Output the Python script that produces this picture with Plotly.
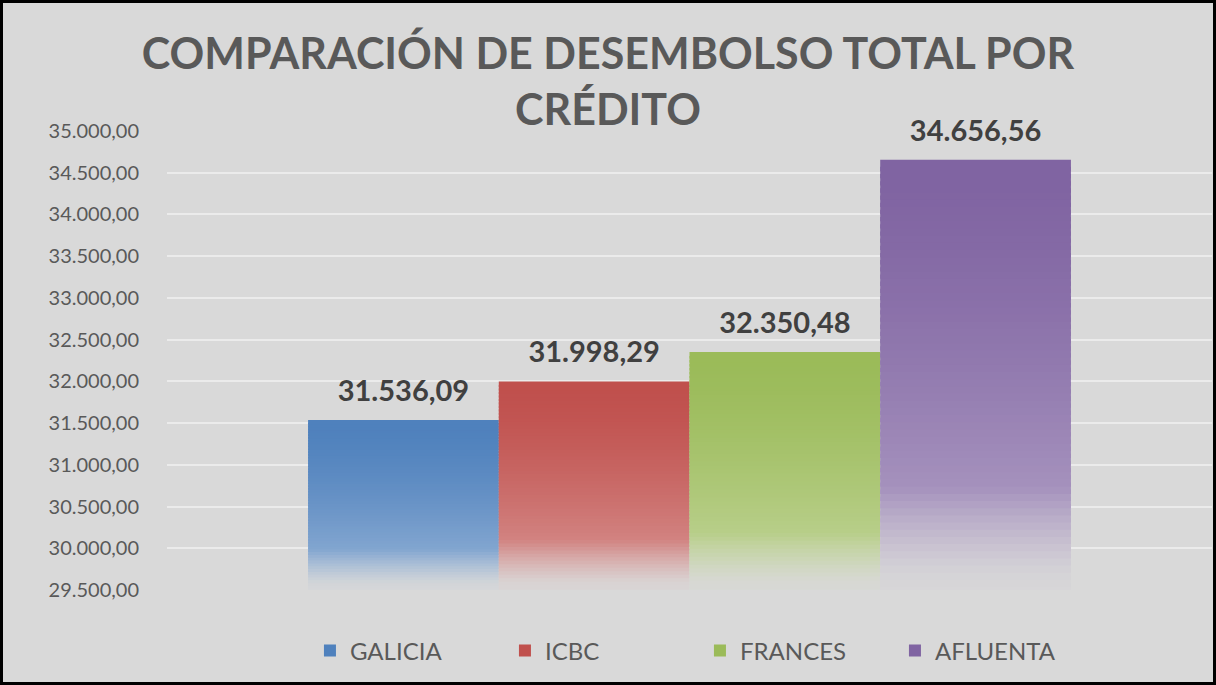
import plotly.graph_objects as go

# Data
bancos = ["GALICIA", "ICBC", "FRANCES", "AFLUENTA"]
desembolso = [31536.09, 31998.29, 32350.48, 34656.56]
colores = ["#4f81bd", "#c0504d", "#9bbb59", "#8064a2"]
y_ticks = [29500, 30000, 30500, 31000, 31500, 32000, 32500, 33000, 33500, 34000, 34500, 35000]

BASE = 29500
FONDO = (217, 217, 217)
N_SEG = 60
PAD = 120  # invisible spacer so the label sits a bit higher above the bar


def hex_rgb(h):
    h = h.lstrip("#")
    return tuple(int(h[i:i + 2], 16) for i in (0, 2, 4))


def gradiente(color, t):
    # t = 0 at top of bar, 1 at bottom; lighten then fade into background
    r, g, b = hex_rgb(color)
    l = 0.45 * t ** 1.5
    r, g, b = r + (255 - r) * l, g + (255 - g) * l, b + (255 - b) * l
    if t < 0.75:
        a = 1.0
    elif t < 0.95:
        a = 1.0 - (t - 0.75) / 0.2 * 0.9
    else:
        a = 0.1 - (t - 0.95) / 0.05 * 0.05
    r = r * a + FONDO[0] * (1 - a)
    g = g * a + FONDO[1] * (1 - a)
    b = b * a + FONDO[2] * (1 - a)
    return f"rgb({int(r)},{int(g)},{int(b)})"


def fmt_es(v):
    s = f"{v:,.2f}"
    return s.replace(",", "X").replace(".", ",").replace("X", ".")


fig = go.Figure()

for i, (nombre, valor, color) in enumerate(zip(bancos, desembolso, colores)):
    # legend entry only
    fig.add_trace(go.Bar(
        x=[""], y=[None], name=nombre, offsetgroup=str(i), legendgroup=nombre,
        marker=dict(color=color, line=dict(width=0)),
    ))
    # bar drawn as stacked gradient segments (bottom to top)
    alto = (valor - BASE) / N_SEG
    solape = alto * 0.6
    bases, alturas, cols, textos = [], [], [], []
    for k in range(N_SEG):
        b0 = BASE + k * alto
        if k > 0:
            bases.append(b0 - solape)
            alturas.append(alto + solape)
        else:
            bases.append(b0)
            alturas.append(alto)
        cols.append(gradiente(color, 1 - (k + 0.5) / N_SEG))
        textos.append("")
    bases.append(valor)
    alturas.append(PAD)
    cols.append("rgba(0,0,0,0)")
    textos.append(fmt_es(valor))
    fig.add_trace(go.Bar(
        x=[""] * len(bases), y=alturas, base=bases,
        offsetgroup=str(i), legendgroup=nombre, showlegend=False,
        marker=dict(color=cols, line=dict(width=0)),
        text=textos, textposition="outside",
        textfont=dict(family="Lato", size=29, color="#404040", weight="bold"),
        cliponaxis=False, hoverinfo="skip",
    ))

W, H = 1216, 685
ML, MR, MT, MB = 167, 4, 131, 95
pw, ph = W - ML - MR, H - MT - MB

fig.update_layout(
    width=W, height=H,
    margin=dict(l=ML, r=MR, t=MT, b=MB),
    paper_bgcolor="#d9d9d9", plot_bgcolor="#d9d9d9",
    separators=",.",
    barmode="group", bargap=0.27, bargroupgap=0,
    font=dict(family="Lato", color="#595959"),
    title=dict(
        text="COMPARACIÓN DE DESEMBOLSO TOTAL POR<br>CRÉDITO",
        font=dict(family="Lato", size=43, color="#595959", weight="bold"),
        x=0.5, xanchor="center", xref="container",
        y=1 - 69 / H, yanchor="middle", yref="container",
    ),
    xaxis=dict(showticklabels=False, showgrid=False, zeroline=False),
    yaxis=dict(
        range=[BASE, 35000], tickvals=y_ticks, tickformat=",.2f",
        showgrid=True, gridcolor="#ebebeb", gridwidth=2, zeroline=False,
        tickfont=dict(family="Lato", size=20, color="#595959"),
        ticklabelstandoff=27,
    ),
    legend=dict(
        orientation="h", x=0.51, xanchor="center", y=-61 / ph, yanchor="middle",
        font=dict(family="Lato", size=24, color="#595959"),
        entrywidth=150, bgcolor="rgba(0,0,0,0)",
    ),
    shapes=[dict(
        type="rect", xref="paper", yref="paper",
        x0=-(ML - 1.5) / pw, x1=1 + (MR - 1.5) / pw,
        y0=-(MB - 1.5) / ph, y1=1 + (MT - 1.5) / ph,
        line=dict(color="black", width=3), layer="above",
    )],
)

fig.write_html("out.html", config={"displayModeBar": False},
               post_script="document.body.style.margin='0';")
